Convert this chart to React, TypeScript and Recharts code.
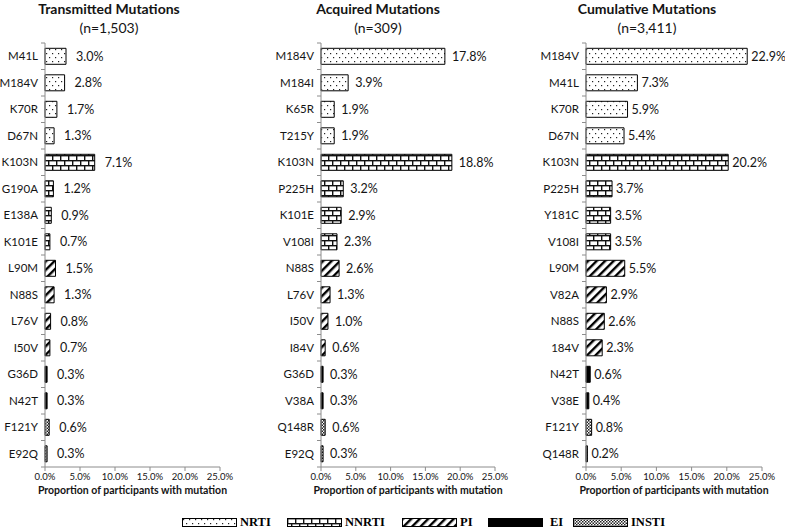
import { Bar, BarChart, Cell, LabelList, XAxis, YAxis } from 'recharts';

// drug class of each row, same order in all three panels
const drugClass = ['nrti', 'nrti', 'nrti', 'nrti', 'nnrti', 'nnrti', 'nnrti', 'nnrti', 'pi', 'pi', 'pi', 'pi', 'ei', 'ei', 'insti', 'insti'];

const transmittedNames = ['M41L', 'M184V', 'K70R', 'D67N', 'K103N', 'G190A', 'E138A', 'K101E', 'L90M', 'N88S', 'L76V', 'I50V', 'G36D', 'N42T', 'F121Y', 'E92Q'];
const transmittedValues = [3.0, 2.8, 1.7, 1.3, 7.1, 1.2, 0.9, 0.7, 1.5, 1.3, 0.8, 0.7, 0.3, 0.3, 0.6, 0.3];

const acquiredNames = ['M184V', 'M184I', 'K65R', 'T215Y', 'K103N', 'P225H', 'K101E', 'V108I', 'N88S', 'L76V', 'I50V', 'I84V', 'G36D', 'V38A', 'Q148R', 'E92Q'];
const acquiredValues = [17.8, 3.9, 1.9, 1.9, 18.8, 3.2, 2.9, 2.3, 2.6, 1.3, 1.0, 0.6, 0.3, 0.3, 0.6, 0.3];

const cumulativeNames = ['M184V', 'M41L', 'K70R', 'D67N', 'K103N', 'P225H', 'Y181C', 'V108I', 'L90M', 'V82A', 'N88S', '184V', 'N42T', 'V38E', 'F121Y', 'Q148R'];
const cumulativeValues = [22.9, 7.3, 5.9, 5.4, 20.2, 3.7, 3.5, 3.5, 5.5, 2.9, 2.6, 2.3, 0.6, 0.4, 0.8, 0.2];

const xTicks = [0, 5, 10, 15, 20, 25];
const legendKeys = ['nrti', 'nnrti', 'pi', 'ei', 'insti'];
const legendLabels = ['NRTI', 'NNRTI', 'PI', 'EI', 'INSTI'];

const FONT = 'Lato, "Open Sans", sans-serif';
const TOP = 43;
const PLOT_H = 424;
const BAND = PLOT_H / 16;
const AXIS_GRAY = '#8c8c8c';
const INK = '#141414';

function Patterns() {
  return (
    <svg width={0} height={0} style={{ position: 'absolute' }}>
      <defs>
        <pattern id="pat-nrti" width={6} height={8} patternUnits="userSpaceOnUse">
          <rect width={6} height={8} fill="#fff" />
          <rect x={1} y={1} width={1.2} height={1.2} fill="#222" />
          <rect x={4} y={5} width={1.2} height={1.2} fill="#222" />
        </pattern>
        <pattern id="pat-nnrti" width={8} height={10} patternUnits="userSpaceOnUse">
          <rect width={8} height={10} fill="#fff" />
          <rect x={0} y={0} width={8} height={1.4} fill="#111" />
          <rect x={0} y={5} width={8} height={1.4} fill="#111" />
          <rect x={0} y={0} width={1.4} height={5} fill="#111" />
          <rect x={4} y={5} width={1.4} height={5} fill="#111" />
        </pattern>
        <pattern id="pat-pi" width={6} height={6} patternUnits="userSpaceOnUse" patternTransform="rotate(45)">
          <rect width={6} height={6} fill="#fff" />
          <rect x={0} y={0} width={2.4} height={6} fill="#000" />
        </pattern>
        <pattern id="pat-ei" width={4} height={4} patternUnits="userSpaceOnUse">
          <rect width={4} height={4} fill="#000" />
        </pattern>
        <pattern id="pat-insti" width={3} height={3} patternUnits="userSpaceOnUse">
          <rect width={3} height={3} fill="#fff" />
          <rect x={0} y={0} width={1.5} height={1.5} fill="#222" />
          <rect x={1.5} y={1.5} width={1.5} height={1.5} fill="#222" />
        </pattern>
      </defs>
    </svg>
  );
}

// category label plus Excel-style tick marks between the categories
const CategoryTick = (props: any) => {
  const { x, y, payload, index } = props;
  const ax = x + 7;
  return (
    <g>
      <line x1={ax - 4} x2={ax} y1={y - BAND / 2} y2={y - BAND / 2} stroke={AXIS_GRAY} />
      {index === 15 && <line x1={ax - 4} x2={ax} y1={y + BAND / 2} y2={y + BAND / 2} stroke={AXIS_GRAY} />}
      <text x={x} y={y} dy="0.36em" textAnchor="end" fontSize={11.5} fill={INK} fontFamily={FONT}>
        {payload.value}
      </text>
    </g>
  );
};

type PanelProps = {
  names: string[];
  values: number[];
  left: number;
  axisWidth: number;
  plotWidth: number;
  chartWidth: number;
  labelOffset: number;
  titleCentre: number;
  title: string;
  count: string;
};

function Panel({ names, values, left, axisWidth, plotWidth, chartWidth, labelOffset, titleCentre, title, count }: PanelProps) {
  const data = names.map((name, i) => ({ name, value: values[i], cls: drugClass[i] }));
  const centre = left + axisWidth + plotWidth / 2;
  return (
    <>
      <div
        style={{
          position: 'absolute',
          left: titleCentre - 120,
          width: 240,
          top: -1,
          textAlign: 'center',
          fontFamily: FONT,
          fontSize: 14,
          lineHeight: '19px',
          color: INK
        }}
      >
        <div style={{ fontWeight: 700 }}>{title}</div>
        <div>{count}</div>
      </div>
      <div style={{ position: 'absolute', left, top: 0 }}>
        <BarChart
          width={chartWidth}
          height={500}
          data={data}
          layout="vertical"
          barCategoryGap="20%"
          margin={{ top: TOP, right: chartWidth - axisWidth - plotWidth, bottom: 500 - TOP - PLOT_H - 20, left: 0 }}
          style={{ overflow: 'visible' }}
        >
          <XAxis
            type="number"
            domain={[0, 25]}
            ticks={xTicks}
            interval={0}
            height={20}
            tickSize={4}
            tickMargin={2}
            stroke={AXIS_GRAY}
            tick={{ fontSize: 9.5, fill: INK, fontFamily: FONT }}
            tickFormatter={(v: number) => `${v.toFixed(1)}%`}
          />
          <YAxis
            type="category"
            dataKey="name"
            width={axisWidth}
            interval={0}
            tickSize={4}
            tickMargin={3}
            tickLine={false}
            stroke={AXIS_GRAY}
            tick={<CategoryTick />}
          />
          <Bar dataKey="value" stroke="#000" strokeWidth={1} isAnimationActive={false}>
            {data.map((d) => (
              <Cell key={d.name} fill={`url(#pat-${d.cls})`} />
            ))}
            <LabelList
              dataKey="value"
              position="right"
              offset={labelOffset}
              formatter={(v: any) => `${Number(v).toFixed(1)}%`}
              style={{ fontSize: 12.5, fill: INK, fontFamily: FONT }}
            />
          </Bar>
        </BarChart>
      </div>
      <div
        style={{
          position: 'absolute',
          left: centre - 130,
          width: 260,
          top: 484,
          textAlign: 'center',
          fontFamily: FONT,
          fontSize: 10.5,
          fontWeight: 700,
          color: INK
        }}
      >
        Proportion of participants with mutation
      </div>
    </>
  );
}

export default function App() {
  const legendX = [182, 287, 402, 488, 573];
  return (
    <div style={{ position: 'absolute', left: 0, top: 0, width: 785, height: 529, background: '#fff', overflow: 'hidden' }}>
      <Patterns />
      <Panel names={transmittedNames} values={transmittedValues} left={0} axisWidth={45} plotWidth={175} chartWidth={255} labelOffset={10} titleCentre={109} title="Transmitted Mutations" count="(n=1,503)" />
      <Panel names={acquiredNames} values={acquiredValues} left={260} axisWidth={61} plotWidth={174} chartWidth={262} labelOffset={7} titleCentre={378} title="Acquired Mutations" count="(n=309)" />
      <Panel names={cumulativeNames} values={cumulativeValues} left={525} axisWidth={61} plotWidth={176} chartWidth={260} labelOffset={4} titleCentre={647} title="Cumulative Mutations" count="(n=3,411)" />
      {legendKeys.map((k, i) => (
        <div key={k} style={{ position: 'absolute', left: legendX[i], top: 515, display: 'flex', alignItems: 'center' }}>
          <svg width={55} height={9}>
            <rect x={0.5} y={0.5} width={54} height={8} fill={`url(#pat-${k})`} stroke="#000" strokeWidth={1} />
          </svg>
          <span style={{ marginLeft: k === 'ei' ? 7 : 3, fontFamily: '"Liberation Serif", "Times New Roman", serif', fontWeight: 700, fontSize: 12.5, color: '#000' }}>
            {legendLabels[i]}
          </span>
        </div>
      ))}
    </div>
  );
}
